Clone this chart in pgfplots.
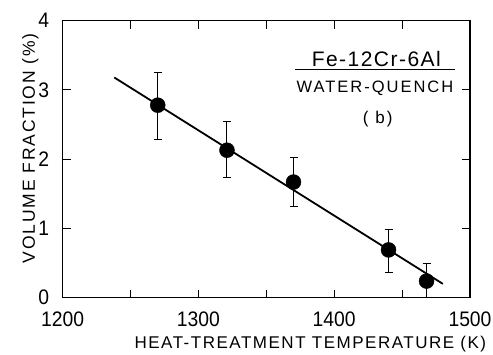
\documentclass[border=0pt]{standalone}
\usepackage{fontspec}
\setmainfont{Liberation Sans}
\newfontfamily\tickfont{Liberation Sans}[FakeStretch=0.92]
\newfontfamily\labfont{Liberation Sans}[LetterSpace=10.5]
\newfontfamily\xlabfont{Liberation Sans}[LetterSpace=8.9]
\newfontfamily\wqfont{Liberation Sans}[LetterSpace=12]
\newfontfamily\annfont{Liberation Sans}[LetterSpace=7]
\usepackage{pgfplots}
\pgfplotsset{compat=1.18}
\begin{document}
\begin{tikzpicture}[x=1pt,y=1pt]
\begin{axis}[
  at={(0,0)}, anchor=south west,
  scale only axis, width=407.3pt, height=277pt,
  xmin=1200, xmax=1500, ymin=0, ymax=4,
  xtick={1200,1300,1400,1500}, ytick={0,1,2,3,4},
  minor xtick={1250,1350,1450},
  tick align=inside, major tick length=8pt, minor tick length=8pt,
  axis line style={line width=1.1pt}, every tick/.style={line width=1pt, black},
  /pgf/number format/assume math mode=true,
  /pgf/number format/1000 sep={},
  tick label style={font=\tickfont\fontsize{21}{24}\selectfont},
  xticklabel style={yshift=-11pt},
  yticklabel style={xshift=-10pt},
  xlabel={HEAT-TREATMENT TEMPERATURE (K)},
  ylabel={VOLUME FRACTION (\%)},
  ylabel style={font=\labfont\fontsize{17.5}{20}\selectfont, yshift=-7pt, xshift=11pt},
  xlabel style={font=\xlabfont\fontsize{17}{20}\selectfont, yshift=-2pt, xshift=44pt},
  clip=false,
]
\addplot[line width=1.8pt, black] coordinates {(1238,3.18) (1480,0.20)};
\addplot[only marks, mark=*, mark size=7.5pt, black,
  error bars/.cd, y dir=both, y explicit,
  error bar style={line width=1pt, black}, error mark options={rotate=90, mark size=4pt, line width=1pt}]
  table[x=x, y=y, y error plus=ep, y error minus=em] {
x y ep em
1270 2.78 0.47 0.50
1321 2.13 0.42 0.40
1370 1.67 0.35 0.36
1440 0.69 0.30 0.33
1468 0.24 0.26 0.24
};
\node[font=\annfont\fontsize{21}{24}\selectfont] at (axis cs:1431,3.44) {Fe-12Cr-6Al};
\draw[line width=1.2pt] (axis cs:1371,3.30) -- (axis cs:1489,3.30);
\node[font=\wqfont\fontsize{16.5}{20}\selectfont] at (axis cs:1430,3.03) {WATER-QUENCH};
\node[font=\wqfont\fontsize{17}{20}\selectfont] at (axis cs:1432,2.58) {( b)};
\end{axis}
\pgfresetboundingbox
\useasboundingbox (-62.7,-56.3) rectangle (430.3,297.7);
\end{tikzpicture}
\end{document}
